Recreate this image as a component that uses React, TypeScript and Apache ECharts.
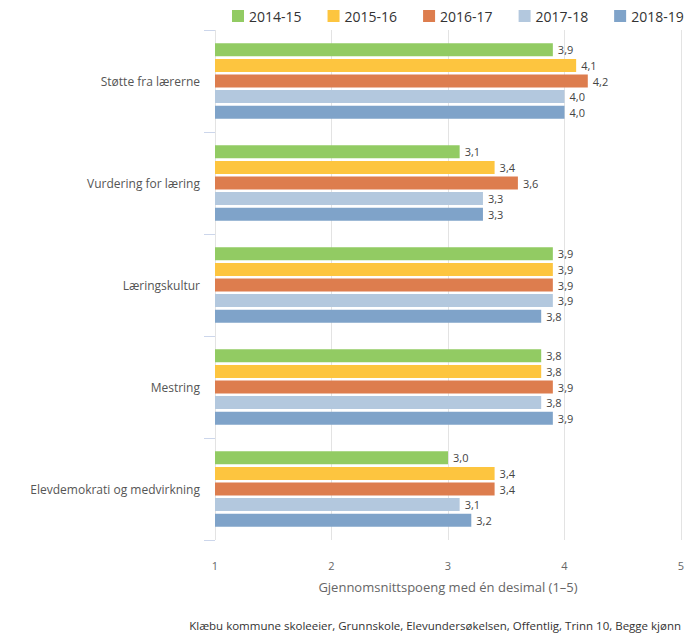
import React, { useEffect, useRef } from "react";
import * as echarts from "echarts";

const categories = [
  "Støtte fra lærerne",
  "Vurdering for læring",
  "Læringskultur",
  "Mestring",
  "Elevdemokrati og medvirkning",
];
const seriesNames = ["2014-15", "2015-16", "2016-17", "2017-18", "2018-19"];
const colors = ["#92cb63", "#fdc53f", "#dd7d4e", "#b3c8de", "#7fa3c9"];
const v2014 = [3.9, 3.1, 3.9, 3.8, 3.0];
const v2015 = [4.1, 3.4, 3.9, 3.8, 3.4];
const v2016 = [4.2, 3.6, 3.9, 3.9, 3.4];
const v2017 = [4.0, 3.3, 3.9, 3.8, 3.1];
const v2018 = [4.0, 3.3, 3.8, 3.9, 3.2];
const allValues = [v2014, v2015, v2016, v2017, v2018];
const xTicks = [1, 2, 3, 4, 5];
const axisTitle = "Gjennomsnittspoeng med én desimal (1–5)";
const footer =
  "Klæbu kommune skoleeier, Grunnskole, Elevundersøkelsen, Offentlig, Trinn 10, Begge kjønn";

const FONT = "'Open Sans', sans-serif";

export default function App() {
  const ref = useRef<HTMLDivElement>(null);
  useEffect(() => {
    document.body.style.margin = "0";
    if (!ref.current) return;
    const chart = echarts.init(ref.current, null, { renderer: "svg" });
    chart.setOption({
      animation: false,
      textStyle: { fontFamily: FONT },
      legend: {
        top: 4,
        left: 227,
        itemWidth: 12,
        itemHeight: 12,
        itemGap: 26,
        icon: "rect",
        textStyle: { fontSize: 14, color: "#333", fontFamily: FONT },
        data: seriesNames,
      },
      grid: { left: 215, right: 19, top: 30, bottom: 101 },
      xAxis: {
        type: "value",
        min: xTicks[0],
        max: xTicks[xTicks.length - 1],
        interval: 1,
        axisLine: { show: false },
        axisTick: { show: false },
        splitLine: { show: true, lineStyle: { color: "#e3e3e3", width: 1 } },
        axisLabel: { color: "#666", fontSize: 11, margin: 20, fontFamily: FONT },
        name: axisTitle,
        nameLocation: "middle",
        nameGap: 40,
        nameTextStyle: { color: "#666", fontSize: 13, fontFamily: FONT },
      },
      yAxis: {
        type: "category",
        data: categories,
        inverse: true,
        axisLine: { show: false },
        axisTick: { show: true, length: 11, lineStyle: { color: "#ccd6eb" } },
        axisLabel: { color: "#555", fontSize: 12, margin: 15, fontFamily: FONT },
      },
      series: seriesNames.map((name, i) => ({
        name,
        type: "bar",
        data: allValues[i],
        barWidth: 13,
        barGap: "20%",
        itemStyle: { color: colors[i] },
        label: {
          show: true,
          position: "right",
          distance: 5,
          fontSize: 11,
          color: "#444",
          fontFamily: FONT,
          formatter: (p: any) => p.value.toFixed(1).replace(".", ","),
        },
      })),
      graphic: [
        {
          type: "text",
          right: 19,
          top: 619,
          style: { text: footer, fontSize: 11.5, fill: "#333", fontFamily: FONT },
        },
      ],
    });
    return () => chart.dispose();
  }, []);
  return <div ref={ref} style={{ width: 700, height: 641 }} />;
}
